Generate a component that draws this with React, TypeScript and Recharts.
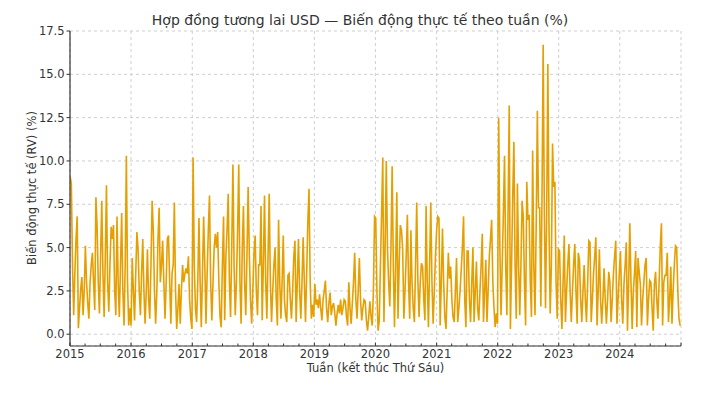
import { CartesianGrid, Line, LineChart, ReferenceLine, XAxis, YAxis } from 'recharts';

// weekly realised volatility (%), one array per calendar year (Friday closes)
const rv2015 = [
    9.1, 8.7, 4.0, 1.1, 3.5, 5.5, 6.8, 0.35, 1.5, 2.6, 3.3, 1.1, 2.5, 5.1, 3.0, 1.8, 0.9, 3.0, 4.0, 4.7,
    3.0, 1.4, 7.9, 6.2, 3.0, 1.2, 4.5, 7.7, 3.5, 1.0, 4.5, 8.6, 3.0, 1.3, 4.0, 6.2, 5.5, 6.3, 2.5, 1.1,
    6.8, 3.0, 1.0, 4.0, 7.0, 2.5, 0.5, 4.0, 10.3, 3.0, 0.5, 1.5,
];
const rv2016 = [
    0.5, 4.4, 2.5, 0.8, 3.5, 5.9, 4.9, 2.5, 1.1, 3.5, 5.5, 2.5, 0.6, 2.5, 4.9, 2.0, 0.9, 4.0, 7.7, 6.0,
    2.5, 0.6, 2.4, 5.5, 7.3, 3.0, 4.0, 5.4, 3.0, 0.9, 3.0, 5.5, 5.7, 3.0, 0.6, 3.5, 4.0, 7.6, 2.5, 0.3,
    1.5, 2.9, 0.6, 2.5, 4.0, 3.0, 3.5, 3.8, 3.5, 4.5, 2.0, 0.9, 0.3,
];
const rv2017 = [
    10.2, 4.0, 1.5, 0.7, 3.0, 6.7, 3.0, 0.4, 3.5, 6.8, 4.0, 0.6, 3.5, 6.0, 8.0, 3.0, 0.8, 3.0, 5.0, 5.8,
    5.0, 5.9, 3.0, 1.0, 0.4, 4.0, 6.8, 0.8, 4.5, 6.0, 8.1, 3.0, 1.0, 5.0, 9.8, 4.0, 1.1, 3.0, 6.0, 9.8,
    3.0, 0.6, 5.0, 7.4, 3.0, 1.1, 4.5, 8.5, 4.7, 2.0, 0.6, 2.5,
];
const rv2018 = [
    4.7, 5.7, 2.5, 1.1, 4.0, 4.0, 7.4, 0.8, 4.0, 8.0, 3.0, 0.9, 4.5, 8.1, 3.0, 0.7, 2.5, 4.0, 5.0, 2.0,
    0.5, 6.6, 3.0, 0.9, 3.0, 5.7, 2.0, 1.1, 0.7, 3.4, 3.5, 2.0, 0.9, 2.5, 4.5, 5.4, 0.7, 3.0, 5.5, 2.5,
    0.9, 3.0, 5.6, 3.0, 0.7, 3.5, 6.5, 8.4, 3.0, 0.9, 1.7, 1.0,
];
const rv2019 = [
    2.9, 1.7, 2.0, 1.5, 2.3, 1.5, 0.8, 2.0, 2.5, 3.1, 1.5, 0.7, 1.8, 2.4, 1.1, 1.6, 1.8, 1.2, 0.5, 1.2,
    1.7, 1.2, 2.0, 1.1, 1.5, 2.0, 1.9, 1.0, 0.5, 3.0, 1.5, 0.6, 1.8, 3.0, 4.7, 2.0, 0.9, 2.5, 4.4, 2.0,
    0.8, 1.5, 2.0, 1.9, 0.8, 0.2, 1.0, 1.9, 1.0, 0.5, 2.5, 6.8,
];
const rv2020 = [
    6.7, 2.5, 0.2, 0.8, 4.0, 7.0, 10.2, 0.7, 5.0, 10.0, 5.0, 3.0, 1.6, 5.0, 9.7, 4.0, 0.4, 4.0, 8.2, 0.9,
    4.0, 6.3, 6.0, 4.9, 0.9, 2.5, 4.5, 6.9, 3.0, 0.9, 6.0, 3.0, 1.5, 0.7, 4.0, 7.6, 3.0, 1.0, 3.0, 4.1,
    3.9, 2.0, 0.8, 7.4, 3.0, 0.4, 4.0, 7.6, 3.0, 0.6, 2.5, 4.5,
];
const rv2021 = [
    6.0, 6.8, 6.7, 0.5, 3.0, 6.1, 3.0, 1.0, 0.3, 2.5, 4.7, 3.2, 3.9, 2.0, 1.0, 0.7, 2.5, 4.4, 0.7, 1.5,
    2.5, 3.7, 5.0, 6.8, 2.0, 0.4, 4.8, 4.8, 2.0, 0.7, 3.0, 5.0, 0.7, 2.5, 4.2, 1.5, 0.8, 2.5, 4.0, 5.8,
    0.7, 2.5, 4.3, 0.7, 2.5, 4.5, 5.5, 6.6, 3.0, 1.5, 0.4, 1.2, 0.6,
];
const rv2022 = [
    12.5, 5.0, 1.1, 4.0, 7.0, 10.3, 4.0, 1.1, 7.0, 13.2, 0.3, 4.0, 8.0, 11.1, 4.0, 0.9, 8.7, 4.0, 1.1, 4.0,
    7.7, 6.8, 3.0, 0.5, 8.8, 6.6, 6.9, 3.0, 1.0, 10.6, 4.0, 1.1, 6.0, 12.9, 7.3, 7.3, 1.6, 8.0, 16.7, 7.0,
    1.5, 7.0, 15.6, 6.0, 1.2, 4.0, 11.0, 8.5, 8.8, 3.0, 0.9, 4.9,
];
const rv2023 = [
    4.8, 2.0, 0.3, 3.0, 5.7, 0.7, 2.5, 4.0, 5.2, 2.5, 0.7, 2.5, 4.0, 5.2, 2.5, 0.6, 4.7, 4.3, 2.0, 0.7,
    2.5, 4.0, 2.0, 0.7, 3.0, 5.4, 5.3, 0.7, 2.0, 3.5, 4.5, 5.6, 0.5, 2.5, 4.9, 2.0, 0.6, 2.0, 3.8, 2.0,
    0.6, 2.0, 3.6, 3.0, 0.7, 2.0, 3.5, 4.5, 5.4, 0.6, 2.0, 3.5,
];
const rv2024 = [
    4.8, 2.0, 0.6, 2.9, 4.0, 5.3, 0.2, 3.0, 6.4, 3.0, 0.3, 2.5, 3.5, 4.8, 0.4, 4.4, 3.6, 2.9, 0.5, 2.0,
    3.0, 4.0, 4.4, 0.5, 2.0, 3.1, 3.0, 1.5, 0.2, 2.9, 3.6, 2.0, 0.9, 3.0, 5.0, 6.4, 0.5, 3.0, 3.4, 3.4,
    4.7, 0.7, 2.0, 3.9, 0.6, 2.5, 4.0, 5.1, 5.0, 2.5, 0.9, 0.5,
];

const years = [2015, 2016, 2017, 2018, 2019, 2020, 2021, 2022, 2023, 2024];
const yTicks = [0, 2.5, 5, 7.5, 10, 12.5, 15, 17.5];

const DAY = 86400000;
const firstFriday = Date.UTC(2015, 0, 2);
const xStart = Date.UTC(2015, 0, 1);
const xEnd = Date.UTC(2025, 0, 1);

const chartData = [rv2015, rv2016, rv2017, rv2018, rv2019, rv2020, rv2021, rv2022, rv2023, rv2024]
    .flat()
    .map((rv, i) => ({ date: firstFriday + i * 7 * DAY, rv }));

const yearTicks = years.map((y) => Date.UTC(y, 0, 1));
const quarterTicks = years.flatMap((y) => [0, 3, 6, 9].map((m) => Date.UTC(y, m, 1))).concat([xEnd]);

const textColor = '#333';
const axisColor = '#333';
const gridColor = '#cfcfcf';
const font = '"DejaVu Sans", sans-serif';

const XTick = (props: any) => {
    const { x, y, payload } = props;
    const d = new Date(payload.value);
    const major = d.getUTCMonth() === 0;
    const showLabel = major && years.includes(d.getUTCFullYear());
    return (
        <g>
            <line x1={x} x2={x} y1={y} y2={y - (major ? 3.5 : 2.5)} stroke={axisColor} strokeWidth={1} />
            {showLabel && (
                <text x={x} y={y + 12} textAnchor="middle" fontSize={11.5} fill={textColor} fontFamily={font}>
                    {d.getUTCFullYear()}
                </text>
            )}
        </g>
    );
};

export default function App() {
    return (
        <div style={{ position: 'absolute', left: 0, top: 0, width: 708, height: 399, background: '#fff', fontFamily: font }}>
            <div
                style={{
                    position: 'absolute',
                    left: 0,
                    width: 720,
                    top: 12,
                    lineHeight: '16px',
                    textAlign: 'center',
                    fontSize: 14,
                    color: textColor,
                }}>
                Hợp đồng tương lai USD — Biến động thực tế theo tuần (%)
            </div>
            <LineChart width={708} height={399} data={chartData} margin={{ top: 31, right: 27, bottom: 23, left: 0 }}>
                <CartesianGrid vertical={false} stroke={gridColor} strokeDasharray="3 3" />
                {yearTicks.concat([xEnd]).map((t) => (
                    <ReferenceLine key={t} x={t} stroke={gridColor} strokeDasharray="3 3" />
                ))}
                <XAxis
                    dataKey="date"
                    type="number"
                    domain={[xStart, xEnd]}
                    ticks={quarterTicks}
                    interval={0}
                    tick={<XTick />}
                    tickSize={0}
                    tickMargin={0}
                    tickLine={false}
                    axisLine={{ stroke: axisColor, strokeWidth: 1.2 }}
                    height={30}
                    allowDataOverflow
                />
                <YAxis
                    type="number"
                    domain={[-0.68, 17.5]}
                    ticks={yTicks}
                    interval={0}
                    tickFormatter={(v: number) => v.toFixed(1)}
                    tick={{ fontSize: 11.5, fill: textColor, fontFamily: font }}
                    tickSize={3.5}
                    tickMargin={2}
                    tickLine={{ stroke: axisColor }}
                    axisLine={{ stroke: axisColor, strokeWidth: 1.2 }}
                    width={70}
                    allowDataOverflow
                />
                <Line
                    type="linear"
                    dataKey="rv"
                    stroke="#E69F00"
                    strokeWidth={1.6}
                    dot={false}
                    isAnimationActive={false}
                />
            </LineChart>
            <div
                style={{
                    position: 'absolute',
                    left: 70,
                    width: 611,
                    top: 362,
                    lineHeight: '13px',
                    textAlign: 'center',
                    fontSize: 11.5,
                    color: textColor,
                }}>
                Tuần (kết thúc Thứ Sáu)
            </div>
            <div
                style={{
                    position: 'absolute',
                    left: 32,
                    top: 188,
                    transform: 'translate(-50%, -50%) rotate(-90deg)',
                    whiteSpace: 'nowrap',
                    lineHeight: '13px',
                    fontSize: 11.5,
                    color: textColor,
                }}>
                Biến động thực tế (RV) (%)
            </div>
        </div>
    );
}
